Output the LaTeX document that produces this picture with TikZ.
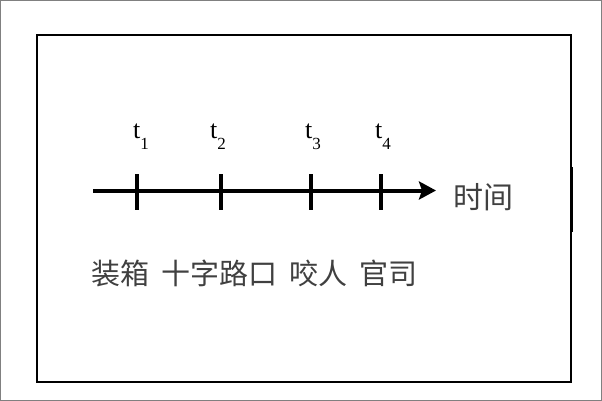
\documentclass[tikz,border=0pt]{standalone}
\usepackage{fontspec}
\setmainfont{Liberation Serif}
\newfontfamily\cjk{Noto Sans CJK SC}
\usetikzlibrary{arrows.meta}
\tikzset{
  frame/.style={draw=black, line width=2pt},
  axis/.style={line width=4pt, -{Stealth[length=17pt,width=18pt,inset=3pt]}},
  tickmark/.style={line width=3.5pt},
  tlabel/.style={inner sep=0pt, anchor=base west, font=\fontsize{26}{26}\selectfont},
  cjktext/.style={inner sep=0pt, text=black!75, font=\cjk\fontsize{29}{29}\selectfont}
}
\newcommand{\tsub}[1]{t\raisebox{-11pt}{\fontsize{17}{17}\selectfont #1}}
\begin{document}
\begin{tikzpicture}[x=1pt,y=-1pt]
\useasboundingbox (0,0) rectangle (602,401);
\draw[gray, line width=1pt] (0.5,0.5) rectangle (601.5,400.5);
\draw[frame] (37,35) rectangle (570.5,381.5);
\draw[line width=3pt] (571.5,167) -- (571.5,232);
% axis
\coordinate (a0) at (93,190.5);
\coordinate (a1) at (436,190.5);
\draw[axis] (a0) -- (a1);
\foreach \n/\x in {1/137,2/221,3/311,4/381}{
  \coordinate (k\n top) at (\x,174);
  \coordinate (k\n bot) at (\x,210);
  \draw[tickmark] (k\n top) -- (k\n bot);
}
\node[tlabel] (t1) at (133,139) {\tsub{1}};
\node[tlabel] (t2) at (210,139) {\tsub{2}};
\node[tlabel] (t3) at (305,139) {\tsub{3}};
\node[tlabel] (t4) at (375,139) {\tsub{4}};
\node[cjktext, anchor=west, font=\cjk\fontsize{30}{30}\selectfont] (time) at (453,197) {时间};
\node[cjktext, anchor=west] (words) at (91,273.5) {装箱\hspace{12pt}十字路口\hspace{12pt}咬人\hspace{12pt}官司};
\end{tikzpicture}
\end{document}
